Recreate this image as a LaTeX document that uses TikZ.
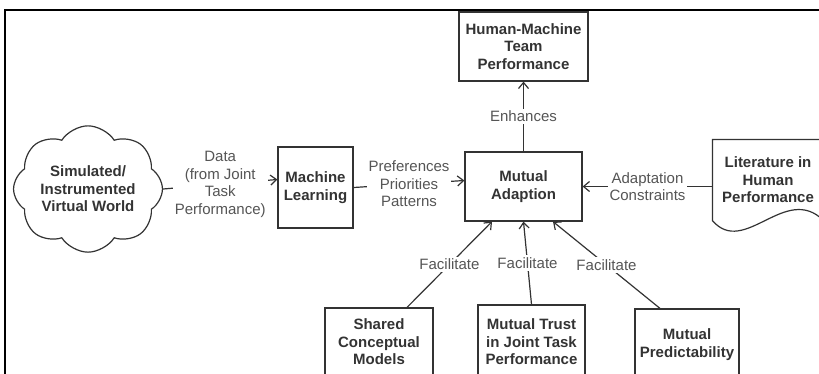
\documentclass[tikz,border=0pt]{standalone}
\usepackage{fontspec}
\setmainfont{Liberation Sans}
\usetikzlibrary{shapes.symbols,arrows.meta}
\definecolor{linegray}{HTML}{333333}
\definecolor{labelgray}{HTML}{555555}

\begin{document}
\begin{tikzpicture}[x=1pt, y=-1pt, inner sep=1pt, >={Straight Barb[length=6pt,width=10pt]}]
		\tikzstyle{every node}=[align=center, font=\fontsize{15}{17.5}\selectfont]
		\tikzstyle{box}=[draw=linegray, line width=1.2pt, text=linegray, font=\bfseries\fontsize{15}{17.5}\selectfont]
		\tikzstyle{lbl}=[fill=white, text=labelgray, inner sep=2pt]
		\tikzstyle{link}=[->, draw=linegray, line width=1.2pt]

			\useasboundingbox (0,0) rectangle (819,373);
			\clip (0,0) rectangle (819,373);
			\draw[line width=2.2pt] (5,10) rectangle (840,400);

			\node[box, minimum width=129pt, minimum height=69pt] (hmt) at (523.5,46.5) {Human-Machine\\Team\\Performance};
			\node[box, minimum width=117pt, minimum height=69pt] (ma) at (523.5,186.5) {Mutual\\Adaption};
			\node[box, minimum width=75pt, minimum height=81pt] (ml) at (315.5,187.5) {Machine\\Learning};
			\node[box, cloud, cloud puffs=8, cloud puff arc=115, aspect=1.3, minimum width=128pt, minimum height=90pt] (world) at (88,189) {Simulated/\\Instrumented\\Virtual World};
			\node[box, draw=none, minimum width=110pt, minimum height=80pt] (lit) at (768,180) {Literature in\\Human\\Performance};
			\draw[linegray, line width=1.2pt] (lit.south east) -- (lit.north east) -- (lit.north west) -- (lit.south west)
				.. controls +(32,37) and +(-38,-38) .. (lit.south east) -- cycle;

			\node[box, minimum width=108pt, minimum height=68pt] (scm) at (379,342) {Shared\\Conceptual\\Models};
			\node[box, minimum width=107pt, minimum height=74pt] (mtj) at (531.5,342) {Mutual Trust\\in Joint Task\\Performance};
			\node[box, minimum width=104pt, minimum height=71pt] (mp) at (687,344.5) {Mutual\\Predictability};

			\draw[link] (ma) -- node[lbl] {Enhances} (hmt);
			\draw[link] (world.east) -- node[lbl] {Data\\(from Joint\\Task\\Performance)} ([yshift=8pt]ml.west);
			\draw[link] (ml.east) -- node[lbl] {Preferences\\Priorities\\Patterns} ([yshift=6pt]ma.west);
			\draw[link] (lit.west |- ma.east) -- node[lbl] {Adaptation\\Constraints} (ma.east);
			\draw[link] ([xshift=28pt]scm.north) -- node[lbl] {Facilitate} ([xshift=-31.5pt]ma.south);
			\draw[link] (mtj.north) -- node[lbl] {Facilitate} (ma.south);
			\draw[link] ([xshift=-27pt]mp.north) -- node[lbl] {Facilitate} ([xshift=29.5pt]ma.south);
		\end{tikzpicture}
\end{document}
